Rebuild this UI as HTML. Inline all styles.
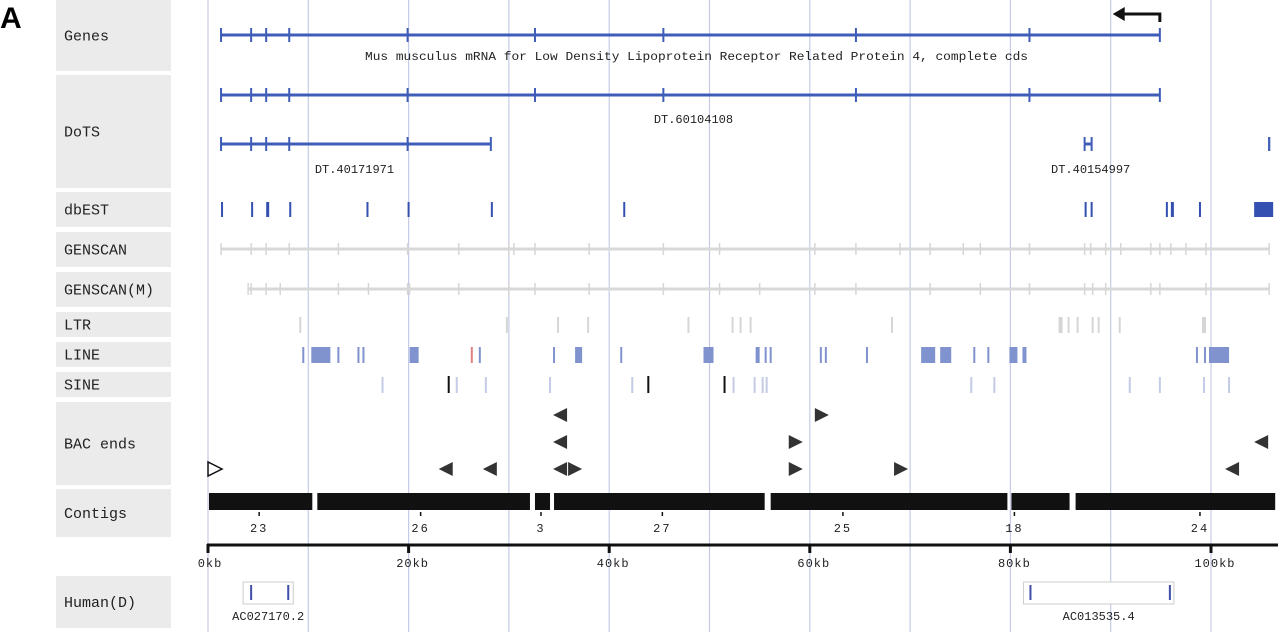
<!DOCTYPE html>
<html><head><meta charset="utf-8"><style>
html,body{margin:0;padding:0;background:#fff;width:1280px;height:632px;overflow:hidden}
svg{display:block}
.lbl{font-family:"Liberation Mono",monospace;font-size:15px;fill:#222}
.sm{font-family:"Liberation Mono",monospace;font-size:12px;fill:#222}
</style></head><body>
<svg id="chart" width="1280" height="632" viewBox="0 0 1280 632" xmlns="http://www.w3.org/2000/svg">
<text x="0" y="28" style="font-family:'Liberation Sans',sans-serif;font-weight:bold;font-size:30px" fill="#000">A</text>
<g id="grid"></g><g id="labels"></g><g id="tracks"></g>
</svg>
<script>
const geneExons=[1.3,4.3,5.8,8.1,19.9,32.6,45.4,64.6,81.9,94.9];
const dots2Exons=[1.3,4.3,5.8,8.1,19.9,28.2];
const dotsSmall=[[87.4,88.1],[105.8,105.8]];
const dbEST=[[1.3,1.5],[4.3,4.4],[5.8,6.1],[8.1,8.2],[15.8,15.9],[19.9,20],[28.2,28.3],[41.4,41.5],[87.4,87.6],[88.0,88.2],[95.5,95.7],[96.0,96.3],[98.8,98.9],[104.3,106.2]];
const genscanTicks=[1.3,4.3,5.8,8.1,13,19.9,25,30,30.5,32.6,38,45.4,51,60.5,64.6,69,72,75.3,77,81.9,87.4,88,89.5,91,94,94.9,96,97.5,99.5,105.8];
const genscanMTicks=[4.0,4.3,5.8,7.2,13,16,19.9,20.1,25,30,32.6,38,45.4,51,55,60.5,64.6,72,77,81.9,87.4,88.2,89.5,94,94.9,99.5,105.8];
const ltr=[[9.1,9.2],[29.7,29.8],[34.8,34.9],[37.8,37.9],[47.8,47.9],[52.2,52.3],[53,53.1],[54,54.1],[68.1,68.2],[84.8,85.2],[85.7,85.8],[86.6,86.7],[88.1,88.2],[88.7,88.8],[90.8,90.9],[99.1,99.5]];
const lineRep=[[9.4,9.6],[10.3,12.2],[12.9,13],[14.9,15.1],[15.4,15.6],[20.1,21],[27,27.1],[34.4,34.5],[36.6,37.3],[41.1,41.2],[49.4,50.4],[54.6,55],[55.5,55.6],[56,56.1],[61,61.1],[61.5,61.6],[65.6,65.7],[71.1,72.5],[73,74.1],[76.3,76.5],[77.7,77.9],[79.9,80.7],[81.2,81.6],[98.5,98.6],[99.3,99.4],[99.8,101.8]];
const lineRed=[[26.2,26.3]];
const sineLight=[17.3,24.7,27.6,34,42.2,52.3,54.4,55.2,55.6,76,78.3,91.8,94.8,99.2,101.7];
const sineDark=[23.9,43.8,51.4];
const bacRow=[0,0,1,1,1,2,2,2,2,2,2,2,2];
const bacPos=[35.1,61.2,35.1,58.6,105,0.7,23.7,28.1,35.1,36.6,58.6,69.1,102.1];
const bacDir=[-1,1,-1,1,-1,2,-1,-1,-1,1,1,1,-1];
const contigs=[[0.1,10.4],[10.9,32.1],[32.6,34.1],[34.5,55.5],[56.1,79.7],[80.1,85.9],[86.5,106.4]];
const contigNames=["23","26","3","27","25","18","24"];
const contigLabelPos=[5.1,21.2,33.2,45.3,63.3,80.4,98.9];
const axisTicks=[0,20,40,60,80,100];
const axisLabels=["0kb","20kb","40kb","60kb","80kb","100kb"];
const humanBoxes=[[3.5,8.5],[81.3,96.3]];
const humanTicks=[[4.2,7.9],[81.9,95.8]];
const humanNames=["AC027170.2","AC013535.4"];
const rowNames=["Genes","DoTS","dbEST","GENSCAN","GENSCAN(M)","LTR","LINE","SINE","BAC ends","Contigs","Human(D)"];
const rowTop=[0,75,192,232,272,312,342,372,402,489,576];
const rowBot=[71,188,227,267,307,337,367,397,485,537,628];

const NS="http://www.w3.org/2000/svg";
const X=kb=>208+kb*10.03;
function mk(parent,tag,attrs){const e=document.createElementNS(NS,tag);for(const k in attrs)e.setAttribute(k,attrs[k]);parent.appendChild(e);return e;}
const G=document.getElementById('grid'),L=document.getElementById('labels'),T=document.getElementById('tracks');
for(let k=0;k<=100;k+=10){const e=mk(G,'line',{x1:X(k),x2:X(k),y1:0,y2:632,stroke:'#c5cbe6','stroke-width':1.2});

}
rowNames.forEach((n,i)=>{const r=mk(L,'rect',{x:56,y:rowTop[i],width:115,height:rowBot[i]-rowTop[i],fill:'#ebebeb'});


const t=mk(L,'text',{x:64,y:(rowTop[i]+rowBot[i])/2+5,class:'lbl'});t.textContent=n;

});
function model(exons,y,name){const l=mk(T,'line',{x1:X(exons[0]),x2:X(exons[exons.length-1]),y1:y,y2:y,stroke:'#3f5cb8','stroke-width':3});


exons.forEach(k=>{const e=mk(T,'line',{x1:X(k),x2:X(k),y1:y-7,y2:y+7,stroke:'#3f5cb8','stroke-width':2});

});}
model(geneExons,35,'gene-model');
model(geneExons,95,'dots-model-60104108');
model(dots2Exons,144,'dots-model-40171971');
const ar=mk(T,'path',{d:`M${X(94.9)} 22 V14 H${X(91.2)}`,stroke:'#111','stroke-width':3,fill:'none'});


const ah=mk(T,'path',{d:`M${X(90.2)} 14 l12 -7 v14 z`,fill:'#111'});


function txt(x,y,s,name,anchor){const t=mk(T,'text',{x:x,y:y,class:'sm','text-anchor':anchor||'middle'});t.textContent=s;

return t;}
const gn=txt(365,60,'Mus musculus mRNA for Low Density Lipoprotein Receptor Related Protein 4, complete cds','gene-name','start');
gn.setAttribute('textLength','663');
gn.setAttribute('lengthAdjust','spacingAndGlyphs');
txt(X(48.4),123,'DT.60104108','dots-label');
txt(X(14.6),173,'DT.40171971','dots-label');
txt(X(88.0),173,'DT.40154997','dots-label');
dotsSmall.forEach(d=>{const l=mk(T,'line',{x1:X(d[0]),x2:X(d[1]),y1:144,y2:144,stroke:'#3f5cb8','stroke-width':3});


[d[0],d[1]].forEach(k=>{const e=mk(T,'line',{x1:X(k),x2:X(k),y1:137,y2:151,stroke:'#3f5cb8','stroke-width':2});

});});
function bars(arr,y1,y2,color,name){arr.forEach(d=>{const r=mk(T,'rect',{x:X(d[0]),y:y1,width:Math.max(2,X(d[1])-X(d[0])),height:y2-y1,fill:color});

});}
bars(dbEST,202,217,'#3450b0','est-hit');
function gs(ticks,y,name){const l=mk(T,'line',{x1:X(ticks[0]),x2:X(ticks[ticks.length-1]),y1:y,y2:y,stroke:'#d8d8d8','stroke-width':3});


ticks.forEach(k=>{const e=mk(T,'line',{x1:X(k),x2:X(k),y1:y-6,y2:y+6,stroke:'#d6d6d6','stroke-width':1.5});

});}
gs(genscanTicks,249,'genscan-prediction');
gs(genscanMTicks,289,'genscan-m-prediction');
bars(ltr,317,333,'#d6d6d6','ltr-repeat');
bars(lineRep,347,363,'#8093cf','line-repeat');
bars(lineRed,347,363,'#e08080','line-repeat-red');
sineLight.forEach(k=>bars([[k,k+0.15]],377,393,'#c4cbe6','sine-repeat'));
sineDark.forEach(k=>bars([[k,k+0.1]],376,393,'#111','sine-repeat-dark'));
const bacY=[415,442,469];
bacPos.forEach((k,i)=>{const x=X(k),y=bacY[bacRow[i]],d=bacDir[i];let p;
if(d===-1)p=`M${x-7} ${y} L${x+7} ${y-7} L${x+7} ${y+7} Z`;else p=`M${x+7} ${y} L${x-7} ${y-7} L${x-7} ${y+7} Z`;
const e=mk(T,'path',{d:p,fill:d===2?'#fff':'#333',stroke:d===2?'#111':'none','stroke-width':1.5});

});
contigs.forEach(c=>{const r=mk(T,'rect',{x:X(c[0]),y:493,width:X(c[1])-X(c[0]),height:17,fill:'#111'});

});
contigLabelPos.forEach((k,i)=>{const e=mk(T,'line',{x1:X(k),x2:X(k),y1:512,y2:516,stroke:'#111','stroke-width':1.5});


const t=txt(X(k),532,contigNames[i],'contig-label');t.setAttribute('letter-spacing','2');});
const ax=mk(T,'line',{x1:207,x2:1278,y1:545,y2:545,stroke:'#111','stroke-width':3});


axisTicks.forEach((k,i)=>{const e=mk(T,'line',{x1:X(k),x2:X(k),y1:544,y2:553,stroke:'#111','stroke-width':3});


const t=txt(X(k)+(i===0?2:4),567,axisLabels[i],'x-axis-label');t.setAttribute('letter-spacing','1');});
humanBoxes.forEach((b,i)=>{const r=mk(T,'rect',{x:X(b[0]),y:582,width:X(b[1])-X(b[0]),height:22,fill:'#fff',stroke:'#ccc','stroke-width':1});


humanTicks[i].forEach(k=>{const e=mk(T,'rect',{x:X(k),y:585,width:2,height:15,fill:'#3f4fa8'});

});
txt((X(b[0])+X(b[1]))/2,620,humanNames[i],'human-label');});
</script>
</body></html>
